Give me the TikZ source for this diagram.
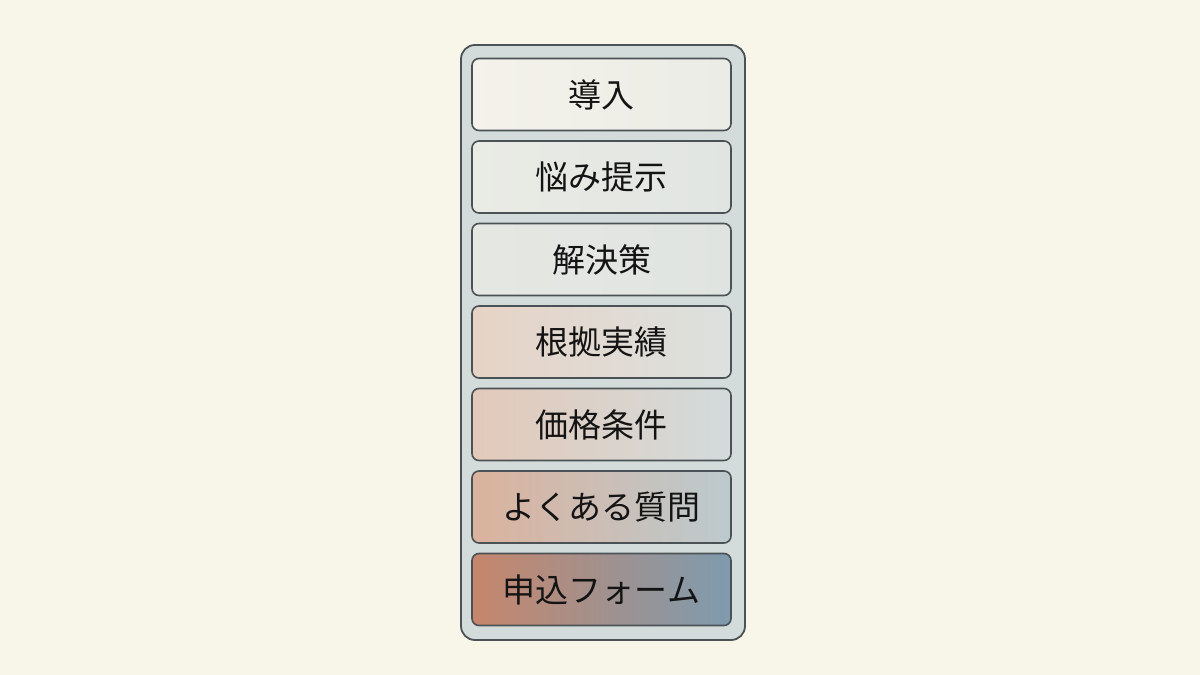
\documentclass[tikz,border=0pt]{standalone}
\usepackage{fontspec}
\newfontfamily\cjk{Noto Sans CJK JP}
\definecolor{bg}{HTML}{F8F5E9}
\definecolor{frame}{HTML}{D3DCDA}
\definecolor{edge}{HTML}{4B5256}
\definecolor{ink}{HTML}{141414}
\definecolor{aL}{HTML}{F4F2EA}\definecolor{aR}{HTML}{EBECE6}
\definecolor{bL}{HTML}{EAEBE5}\definecolor{bR}{HTML}{E1E5E2}
\definecolor{cL}{HTML}{E5E7E2}\definecolor{cR}{HTML}{E0E4E1}
\definecolor{dL}{HTML}{E6D3C6}\definecolor{dR}{HTML}{DCE1DF}
\definecolor{eL}{HTML}{E3C9BA}\definecolor{eR}{HTML}{D3DBDB}
\definecolor{fL}{HTML}{DBB29D}\definecolor{fM}{HTML}{D2BBAE}\definecolor{fR}{HTML}{BCCACE}
\definecolor{gL}{HTML}{C6866C}\definecolor{gM}{HTML}{B2988D}\definecolor{gR}{HTML}{7E9BAE}
\begin{document}
\begin{tikzpicture}[x=1pt,y=-1pt,
  secbox/.style={draw=edge,line width=1.6pt,rounded corners=7pt,minimum width=259pt,minimum height=72pt,inner sep=0pt,font=\cjk\fontsize{33}{38}\selectfont,text=ink}]
\fill[bg] (0,0) rectangle (1200,675);
\useasboundingbox (0,0) rectangle (1200,675);
\node[draw=edge,line width=1.8pt,fill=frame,rounded corners=14pt,minimum width=284pt,minimum height=595pt,inner sep=0pt] (outer) at (603,342.5) {};
\node[secbox,left color=aL,right color=aR] (s1) at (601.5,94.5) {\raisebox{-2pt}{導入}};
\node[secbox,left color=bL,right color=bR] (s2) at (601.5,177) {\raisebox{-2pt}{悩み提示}};
\node[secbox,left color=cL,right color=cR] (s3) at (601.5,259.5) {\raisebox{-2pt}{解決策}};
\node[secbox,left color=dL,right color=dR] (s4) at (601.5,342) {\raisebox{-2pt}{根拠実績}};
\node[secbox,left color=eL,right color=eR] (s5) at (601.5,424.5) {\raisebox{-2pt}{価格条件}};
\node[secbox,left color=fL,middle color=fM,right color=fR] (s6) at (601.5,507) {\raisebox{-2pt}{よくある質問}};
\node[secbox,left color=gL,middle color=gM,right color=gR] (s7) at (601.5,589.5) {\raisebox{-2pt}{申込フォーム}};
\end{tikzpicture}
\end{document}
